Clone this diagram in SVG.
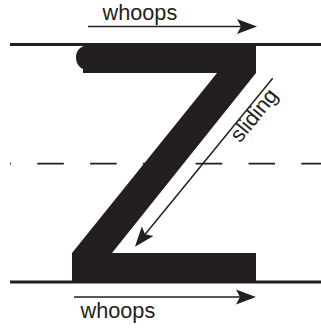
<svg xmlns="http://www.w3.org/2000/svg" width="321" height="333" viewBox="0 0 321 333">
  <style>
    .guide { stroke: #231f20; stroke-width: 3; fill: none; }
    .dash { stroke: #231f20; stroke-width: 1.75; fill: none; stroke-dasharray: 26.5 26.3; stroke-dashoffset: 25.5; }
    .arrow { stroke: #231f20; stroke-width: 1.5; fill: none; marker-end: url(#head); }
    .label { font-family: "Liberation Sans", Arial, sans-serif; font-size: 21.7px; fill: #231f20; }
    .glyph { fill: #231f20; }
  </style>
  <defs>
    <marker id="head" markerUnits="userSpaceOnUse" viewBox="-10 -8 20 16" markerWidth="20" markerHeight="16" refX="0" refY="0" orient="auto">
      <path d="M10,0 L-10,-7.5 L-6,0 L-10,7.5 Z" fill="#231f20"/>
    </marker>
  </defs>

  <g id="guides">
    <line class="guide" x1="10" y1="44.5" x2="321" y2="44.5"/>
    <line class="guide" x1="10" y1="282" x2="321" y2="282"/>
    <line class="dash" x1="10" y1="163.5" x2="321" y2="163.5"/>
  </g>

  <g id="letter-z">
    <path class="glyph" d="M84 44 L256 44 L256 73 L112 253 L256 253 L256 282 L72 282 L72 253 L217 73 L83 73 L83 69 C78.5 67 76 62.5 76 57.5 C76 52 79 47.5 84 46 Z"/>
  </g>

  <g id="connectors">
    <line class="arrow" x1="88" y1="26.5" x2="247" y2="26.5"/>
    <line class="arrow" x1="74" y1="297" x2="246" y2="297"/>
    <line class="arrow" x1="272.7" y1="78.3" x2="141.3" y2="239"/>
  </g>

  <g id="label-top-whoops">
    <text class="label" x="102.5" y="19.5">whoops</text>
  </g>
  <g id="label-bottom-whoops">
    <text class="label" x="80.5" y="318">whoops</text>
  </g>
  <g id="label-sliding">
    <text class="label" transform="translate(240 143.5) rotate(-50.7)">sliding</text>
  </g>
</svg>
